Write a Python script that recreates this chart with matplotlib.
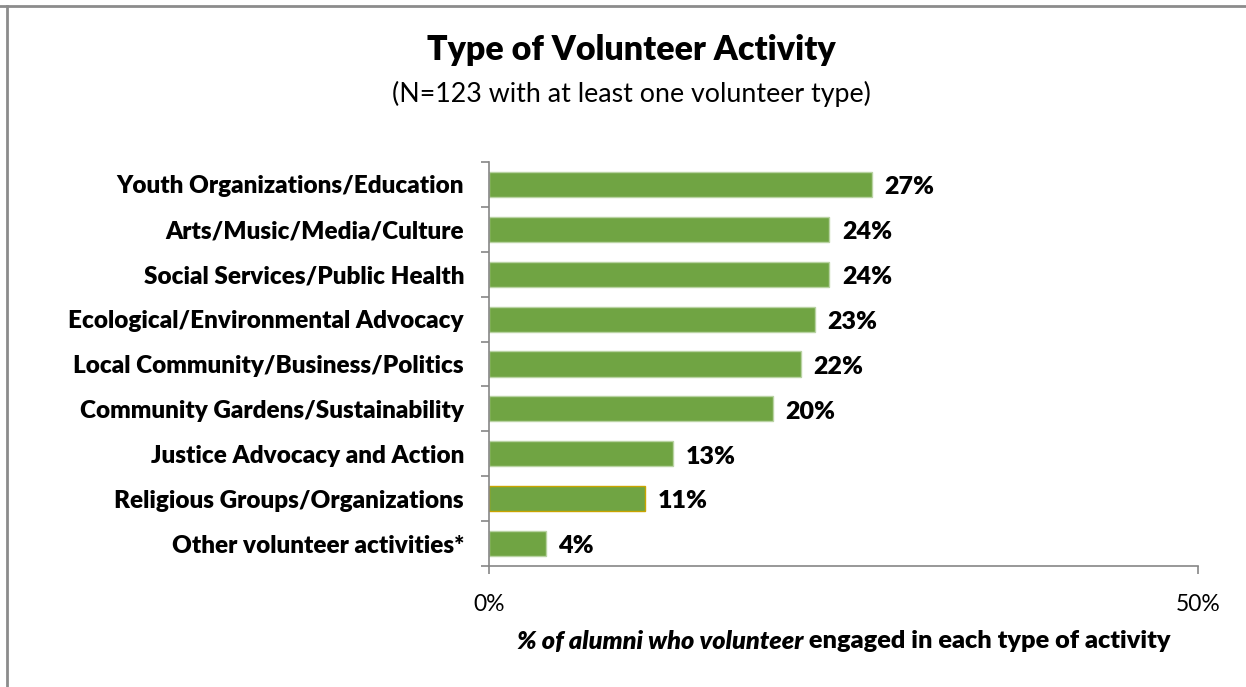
import numpy as np
import matplotlib
matplotlib.use("Agg")
import matplotlib.pyplot as plt
from matplotlib.lines import Line2D

# Survey results: share of volunteering alumni active in each area
categories = [
    "Youth Organizations/Education",
    "Arts/Music/Media/Culture",
    "Social Services/Public Health",
    "Ecological/Environmental Advocacy",
    "Local Community/Business/Politics",
    "Community Gardens/Sustainability",
    "Justice Advocacy and Action",
    "Religious Groups/Organizations",
    "Other volunteer activities*",
]
percent = [27, 24, 24, 23, 22, 20, 13, 11, 4]
x_ticks = [0, 50]
x_tick_labels = ["0%", "50%"]

title = "Type of Volunteer Activity"
subtitle = "(N=123 with at least one volunteer type)"
xlabel_italic = "% of alumni who volunteer"
xlabel_rest = " engaged in each type of activity"

FONT = ["Lato", "DejaVu Sans"]
plt.rcParams["font.family"] = FONT
BOLD = "heavy"

W, H = 1246, 687
fig = plt.figure(figsize=(W / 100, H / 100), dpi=100)
fig.patch.set_facecolor("white")

ax = fig.add_axes([489 / W, 1 - 566 / H, 709 / W, 404 / H])

green = "#70A443"
edges = ["#B9D3A3"] * len(categories)
edges[7] = "#C9A400"
y = np.arange(len(categories))
bars = ax.barh(y, percent, height=0.56, color=green, edgecolor=edges, linewidth=1.0)

for yi, v in zip(y, percent):
    ax.annotate(f"{v}%", xy=(v, yi), xytext=(9, -2), textcoords="offset points",
                ha="left", va="center", fontsize=18, fontweight=BOLD, color="black")

ax.set_xlim(0, 50)
ax.set_ylim(len(categories) - 0.5, -0.5)

# tick marks sit between categories; labels sit on the bar centres
ax.set_yticks(np.arange(-0.5, len(categories), 1.0))
ax.set_yticklabels([])
ax.set_yticks(y, minor=True)
ax.set_yticklabels(categories, minor=True, fontsize=17.5, fontweight=BOLD)
ax.tick_params(axis="y", which="major", length=6, width=1.2, color="#868686", direction="out")
ax.tick_params(axis="y", which="minor", length=0, pad=18)

ax.set_xticks(x_ticks)
ax.set_xticklabels(x_tick_labels, fontsize=16.5)
ax.tick_params(axis="x", length=6, width=1.2, color="#868686", direction="out", pad=14)

for s in ("top", "right"):
    ax.spines[s].set_visible(False)
for s in ("left", "bottom"):
    ax.spines[s].set_color("#868686")
    ax.spines[s].set_linewidth(1.2)

# titles
fig.text(631 / W, 1 - 50 / H, title, ha="center", va="center",
         fontsize=24.5, fontweight=BOLD)
fig.text(631 / W, 1 - 94 / H, subtitle, ha="center", va="center", fontsize=19.3)

# axis title: italic lead-in followed by upright text, centred as one line
renderer = fig.canvas.get_renderer()
y_lab = 1 - 641 / H
t1 = fig.text(0, y_lab, xlabel_italic, ha="left", va="center",
              fontsize=18.2, fontweight=BOLD, fontstyle="italic")
t2 = fig.text(0, y_lab, xlabel_rest, ha="left", va="center",
              fontsize=18.2, fontweight=BOLD)
w1 = t1.get_window_extent(renderer).width
w2 = t2.get_window_extent(renderer).width
centre = 843.5
x0 = centre - (w1 + w2) / 2
t1.set_x(x0 / W)
t2.set_x((x0 + w1) / W)

# chart frame (top and left edges)
fig.add_artist(Line2D([0, 1], [1 - 5.5 / H, 1 - 5.5 / H], transform=fig.transFigure,
                      color="#8C8C8C", linewidth=2.0))
fig.add_artist(Line2D([6.5 / W, 6.5 / W], [0, 1 - 5.5 / H], transform=fig.transFigure,
                      color="#8C8C8C", linewidth=2.0))

fig.savefig("out.png", dpi=100, facecolor="white")
